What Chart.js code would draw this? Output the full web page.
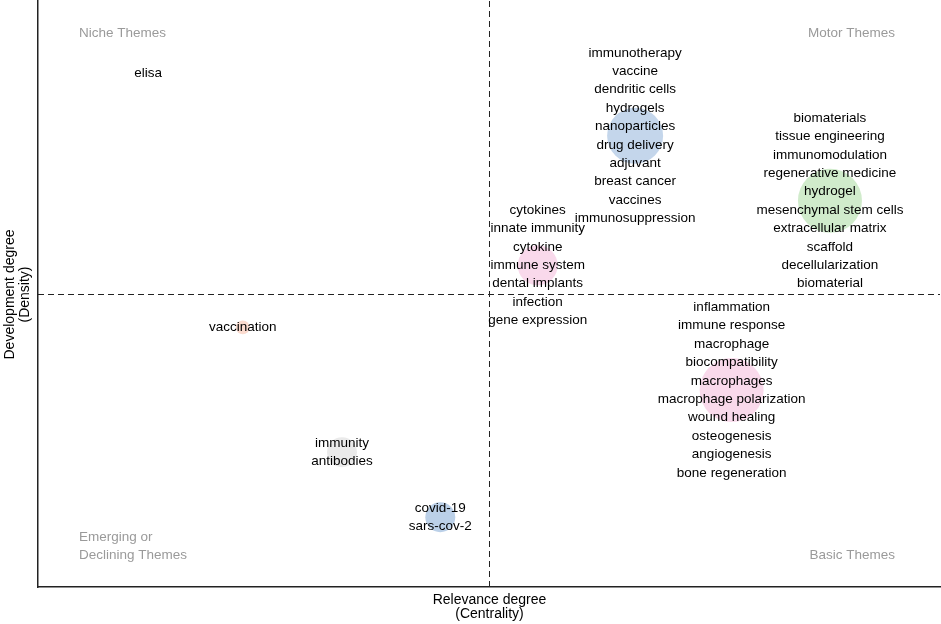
<!DOCTYPE html>
<html>
<head>
<meta charset="utf-8">
<script src="https://cdn.jsdelivr.net/npm/chart.js@4.4.1/dist/chart.umd.min.js"></script>
<style>
  html, body { margin: 0; padding: 0; background: #fff; }
  #wrap { width: 941px; height: 624px; }
</style>
</head>
<body>
<div id="wrap"><canvas id="mapChart" width="941" height="624"></canvas></div>
<script>
// cluster data: centrality (x), density (y), frequency (bubble size)
const centrality = [66.2, 87.8, 55.4, 76.9, 22.7, 33.7, 44.6, 12.2];
const density = [77.0, 65.9, 54.9, 33.6, 44.3, 23.0, 11.9, 87.7];
const frequency = [196, 256, 100, 256, 12, 56, 56, 2];
const clusterColors = [
  "rgba(125,165,210,0.45)", "rgba(150,210,140,0.45)", "rgba(240,160,205,0.4)",
  "rgba(240,160,205,0.4)", "rgba(245,170,140,0.42)", "rgba(200,200,200,0.38)",
  "rgba(125,165,210,0.52)", "rgba(200,200,200,0.38)"
];
const clusterWords = [
  ["immunotherapy", "vaccine", "dendritic cells", "hydrogels", "nanoparticles", "drug delivery", "adjuvant", "breast cancer", "vaccines", "immunosuppression"],
  ["biomaterials", "tissue engineering", "immunomodulation", "regenerative medicine", "hydrogel", "mesenchymal stem cells", "extracellular matrix", "scaffold", "decellularization", "biomaterial"],
  ["cytokines", "innate immunity", "cytokine", "immune system", "dental implants", "infection", "gene expression"],
  ["inflammation", "immune response", "macrophage", "biocompatibility", "macrophages", "macrophage polarization", "wound healing", "osteogenesis", "angiogenesis", "bone regeneration"],
  ["vaccination"],
  ["immunity", "antibodies"],
  ["covid-19", "sars-cov-2"],
  ["elisa"]
];
const quadrantNames = ["Niche Themes", "Motor Themes", "Emerging or\nDeclining Themes", "Basic Themes"];
const xTitle = ["Relevance degree", "(Centrality)"];
const yTitle = ["Development degree", "(Density)"];

const FONT = "13.5px 'Liberation Sans', Arial, sans-serif";

const mapPlugin = {
  id: "mapPlugin",
  beforeDatasetsDraw(chart) {
    const { ctx, chartArea: a, scales: { x, y } } = chart;
    const cx = Math.round(x.getPixelForValue(50)) + 0.5;
    const cy = Math.round(y.getPixelForValue(50)) + 0.5;
    ctx.save();
    ctx.strokeStyle = "#222";
    ctx.lineWidth = 1;
    ctx.setLineDash([6, 4]);
    ctx.beginPath();
    ctx.moveTo(cx, a.top); ctx.lineTo(cx, a.bottom);
    ctx.moveTo(a.left, cy); ctx.lineTo(a.right, cy);
    ctx.stroke();
    ctx.setLineDash([]);

    // quadrant names
    ctx.font = FONT;
    ctx.fillStyle = "#9a9a9a";
    ctx.textBaseline = "middle";
    ctx.textAlign = "left";
    ctx.fillText(quadrantNames[0], 79, 33);
    const em = quadrantNames[2].split("\n");
    ctx.fillText(em[0], 79, 537);
    ctx.fillText(em[1], 79, 555);
    ctx.textAlign = "right";
    ctx.fillText(quadrantNames[1], 895, 33);
    ctx.fillText(quadrantNames[3], 895, 555);

    // axis titles
    ctx.fillStyle = "#000";
    ctx.textAlign = "center";
    ctx.font = "14px 'Liberation Sans', Arial, sans-serif";
    ctx.fillText(xTitle[0], cx, 600);
    ctx.fillText(xTitle[1], cx, 614);
    ctx.translate(0, cy);
    ctx.rotate(-Math.PI / 2);
    ctx.fillText(yTitle[0], 0, 10);
    ctx.fillText(yTitle[1], 0, 25);
    ctx.restore();
  },
  afterDatasetsDraw(chart) {
    const { ctx, scales: { x, y } } = chart;
    ctx.save();
    ctx.font = FONT;
    ctx.fillStyle = "#000";
    ctx.textAlign = "center";
    ctx.textBaseline = "middle";
    clusterWords.forEach((words, i) => {
      const px = x.getPixelForValue(centrality[i]);
      const py = y.getPixelForValue(density[i]);
      const n = words.length;
      words.forEach((w, j) => {
        ctx.fillText(w, px, py + (j - (n - 1) / 2) * 18.4);
      });
    });
    ctx.restore();
  }
};

const points = centrality.map((c, i) => ({ x: c, y: density[i], r: Math.sqrt(frequency[i]) * 2 }));

new Chart(document.getElementById("mapChart"), {
  type: "bubble",
  data: {
    datasets: [{
      data: points,
      backgroundColor: clusterColors,
      borderWidth: 0
    }]
  },
  options: {
    responsive: false,
    animation: false,
    layout: { autoPadding: false, padding: { left: 38, top: 1, right: 1, bottom: 37 } },
    plugins: { legend: { display: false }, tooltip: { enabled: false } },
    scales: {
      x: {
        min: 0, max: 100,
        grid: { display: false, drawTicks: false },
        ticks: { display: false },
        border: { display: true, color: "#222", width: 1.5 }
      },
      y: {
        min: 0, max: 100,
        grid: { display: false, drawTicks: false },
        ticks: { display: false },
        border: { display: true, color: "#222", width: 1.5 }
      }
    }
  },
  plugins: [mapPlugin]
});
</script>
</body>
</html>
